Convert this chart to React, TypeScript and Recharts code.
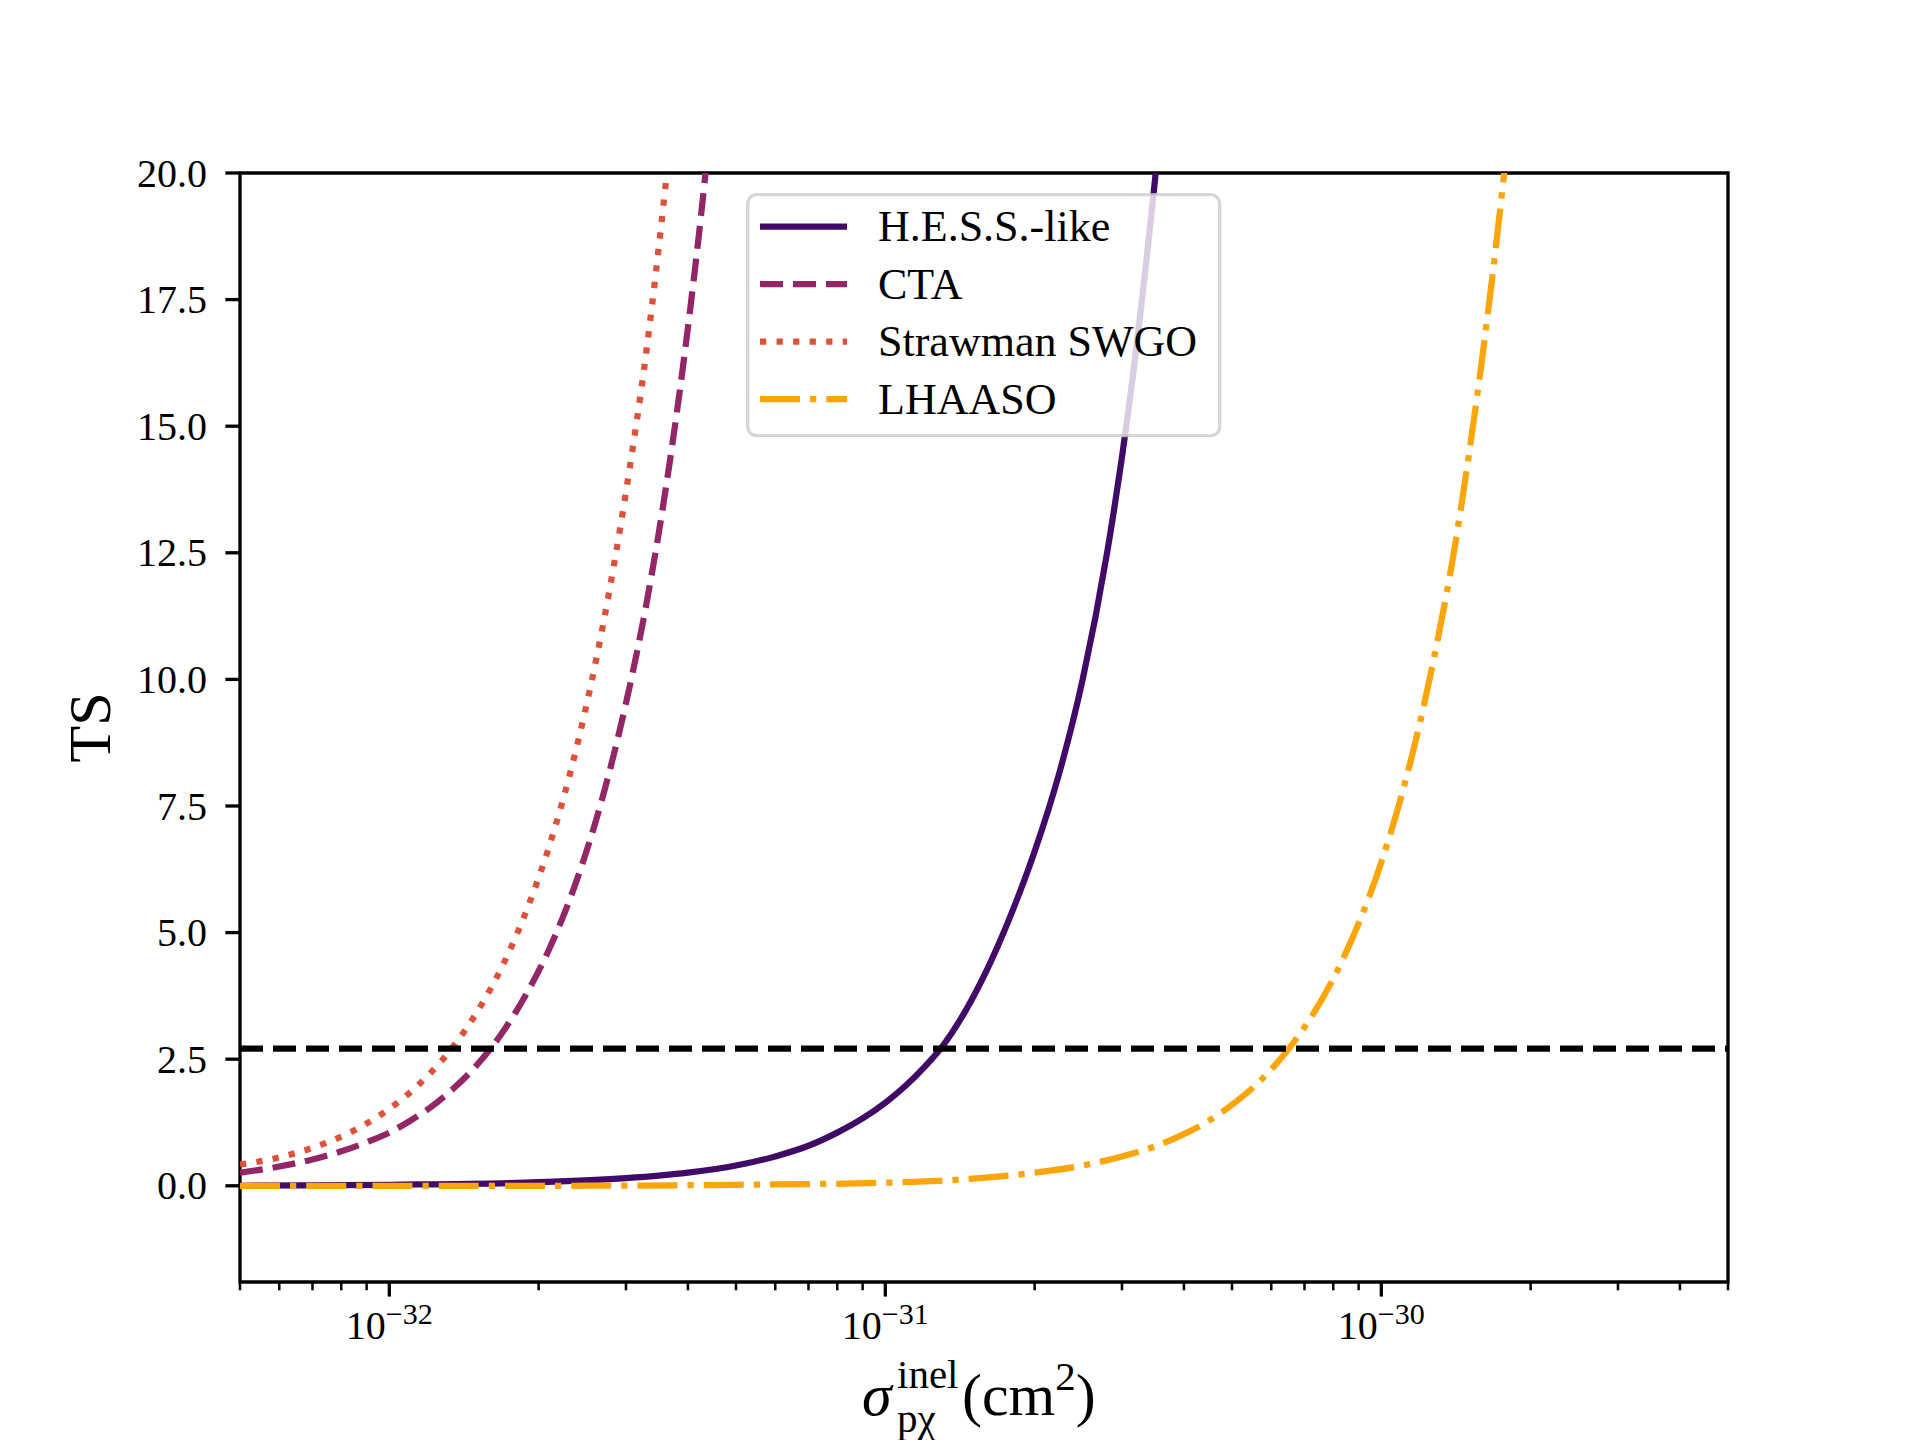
import { LineChart, Line, XAxis, YAxis, ReferenceLine, ReferenceArea, Legend } from "recharts";

const FONT = '"Liberation Serif", "DejaVu Serif", serif';

// sigma (cm^2) and TS, one pair of arrays per instrument
const hessSigma = [5e-33, 1e-32, 2e-32, 3e-32, 4e-32, 5e-32, 6e-32, 7e-32, 8e-32, 9e-32, 1e-31, 1.1e-31, 1.2e-31, 1.3e-31, 1.45e-31, 1.6e-31, 1.8e-31, 2.0e-31, 2.25e-31, 2.5e-31, 2.8e-31, 3.1e-31, 3.5e-31, 3.8e-31];
const hessTS = [0.0, 0.02, 0.07, 0.15, 0.26, 0.4, 0.58, 0.79, 1.05, 1.33, 1.64, 1.98, 2.35, 2.74, 3.45, 4.25, 5.4, 6.6, 8.2, 10.0, 12.5, 15.4, 19.9, 23.5];

const ctaSigma = [5e-33, 6e-33, 7e-33, 8e-33, 9e-33, 1e-32, 1.1e-32, 1.2e-32, 1.35e-32, 1.5e-32, 1.7e-32, 1.9e-32, 2.1e-32, 2.4e-32, 2.7e-32, 3.0e-32, 3.3e-32, 3.6e-32, 3.9e-32, 4.2e-32, 4.5e-32];
const ctaTS = [0.26, 0.38, 0.52, 0.68, 0.86, 1.05, 1.28, 1.52, 1.93, 2.38, 3.06, 3.83, 4.67, 6.1, 7.72, 9.53, 11.5, 13.7, 16.1, 18.7, 21.5];

const swgoSigma = [5e-33, 6e-33, 7e-33, 8e-33, 9e-33, 1e-32, 1.1e-32, 1.2e-32, 1.35e-32, 1.5e-32, 1.7e-32, 1.9e-32, 2.1e-32, 2.4e-32, 2.7e-32, 3.0e-32, 3.3e-32, 3.6e-32, 3.9e-32];
const swgoTS = [0.42, 0.56, 0.75, 0.97, 1.23, 1.52, 1.84, 2.19, 2.77, 3.42, 4.39, 5.49, 6.7, 8.76, 11.1, 13.7, 16.5, 19.7, 23.1];

const lhaasoSigma = [5e-33, 1e-32, 2e-32, 5e-32, 1e-31, 1.5e-31, 2e-31, 2.5e-31, 3e-31, 3.5e-31, 4e-31, 4.5e-31, 5e-31, 5.5e-31, 6e-31, 6.5e-31, 7e-31, 8e-31, 9e-31, 1e-30, 1.1e-30, 1.2e-30, 1.3e-30, 1.4e-30, 1.5e-30, 1.6e-30, 1.7e-30, 1.8e-30, 1.9e-30];
const lhaasoTS = [0.0, 0.0, 0.0, 0.02, 0.06, 0.14, 0.26, 0.4, 0.58, 0.78, 1.02, 1.29, 1.6, 1.93, 2.3, 2.7, 3.13, 4.09, 5.18, 6.39, 7.73, 9.2, 10.8, 12.5, 14.4, 16.4, 18.5, 20.7, 23.1];

const threshold = 2.71;

const seriesNames = ["H.E.S.S.-like", "CTA", "Strawman SWGO", "LHAASO"];
const seriesColors = ["#420a68", "#932667", "#dd513a", "#fca50a"];
const seriesDashes = ["", "23 10", "6.25 10.3", "40 10 6.25 10"];

const xTicks = [
    5e-33, 6e-33, 7e-33, 8e-33, 9e-33,
    1e-32, 2e-32, 3e-32, 4e-32, 5e-32, 6e-32, 7e-32, 8e-32, 9e-32,
    1e-31, 2e-31, 3e-31, 4e-31, 5e-31, 6e-31, 7e-31, 8e-31, 9e-31,
    1e-30, 2e-30, 3e-30, 4e-30, 5e-30
];
const xMajor = [1e-32, 1e-31, 1e-30];
const yTicks = [0, 2.5, 5, 7.5, 10, 12.5, 15, 17.5, 20];

const toRows = (xs: number[], ys: number[]) => xs.map((x, i) => ({ sigma: x, ts: ys[i] }));
const seriesData = [
    toRows(hessSigma, hessTS),
    toRows(ctaSigma, ctaTS),
    toRows(swgoSigma, swgoTS),
    toRows(lhaasoSigma, lhaasoTS)
];

function XTick(props: any) {
    const { x, y, payload } = props;
    const v = payload.value;
    const major = xMajor.some(m => Math.abs(v - m) / m < 1e-6);
    const exp = Math.round(Math.log10(v));
    return (
        <g>
            <line x1={x} x2={x} y1={y} y2={y + (major ? 14.6 : 8.3)} stroke="#000" strokeWidth={major ? 3.3 : 2.5}/>
            {major && (
                <text x={x} y={y + 57} textAnchor="middle" fontFamily={FONT} fontSize={40} fill="#000">
                    10<tspan dy={-15} fontSize={30}>{"\u2212" + Math.abs(exp)}</tspan>
                </text>
            )}
        </g>
    );
}

function YTick(props: any) {
    const { x, y, payload } = props;
    return (
        <g>
            <line x1={x - 14.6} x2={x} y1={y} y2={y} stroke="#000" strokeWidth={3.3}/>
            <text x={x - 33} y={y} dy="0.34em" textAnchor="end" fontFamily={FONT} fontSize={40} fill="#000">
                {payload.value.toFixed(1)}
            </text>
        </g>
    );
}

function XLabel(props: any) {
    const { viewBox } = props;
    const cx = viewBox.x + viewBox.width / 2;
    const base = 1415;
    const x0 = cx - 122;
    return (
        <g fontFamily={FONT} fill="#000">
            <text x={x0} y={base} fontSize={60} fontStyle="italic">σ</text>
            <text x={x0 + 35} y={base - 27} fontSize={41}>inel</text>
            <text x={x0 + 35} y={base + 17} fontSize={41}>pχ</text>
            <text x={x0 + 100} y={base} fontSize={60}>
                (cm<tspan dy={-25} fontSize={41}>2</tspan><tspan dy={25} fontSize={60}>)</tspan>
            </text>
        </g>
    );
}

function YLabel(props: any) {
    const { viewBox } = props;
    const cx = viewBox.x + 50;
    const cy = viewBox.y + viewBox.height / 2;
    return (
        <text x={cx} y={cy} dy="0.33em" textAnchor="middle" fontFamily={FONT} fontSize={60} fill="#000"
              transform={`rotate(-90, ${cx}, ${cy})`}>
            TS
        </text>
    );
}

function LegendBox() {
    const rowY = [33.5, 91, 148.6, 206];
    return (
        <svg width={476} height={245} style={{ display: "block" }}>
            <rect x={1.7} y={1.7} width={472} height={241} rx={9} ry={9}
                  fill="#fff" fillOpacity={0.8} stroke="#cccccc" strokeOpacity={0.8} strokeWidth={3.3}/>
            {seriesNames.map((name, i) => (
                <g key={name}>
                    <line x1={14} x2={101} y1={rowY[i]} y2={rowY[i]} stroke={seriesColors[i]}
                          strokeWidth={6.25} strokeDasharray={seriesDashes[i] || undefined}/>
                    <text x={132} y={rowY[i] + 14.5} fontFamily={FONT} fontSize={44} fill="#000">{name}</text>
                </g>
            ))}
        </svg>
    );
}

export default function App() {
    return (
        <div style={{ position: "absolute", left: 0, top: 0, width: 1920, height: 1440, background: "#fff" }}>
            <LineChart width={1920} height={1440} margin={{ top: 173, right: 192, bottom: 38, left: 40 }}>
                <XAxis dataKey="sigma" type="number" scale="log" domain={[5e-33, 5e-30]} allowDataOverflow
                       ticks={xTicks} interval={0} tick={<XTick/>} tickLine={false} tickSize={0} tickMargin={0}
                       axisLine={false} height={120} label={<XLabel/>}/>
                <YAxis type="number" domain={[-1.9, 20]} allowDataOverflow ticks={yTicks} interval={0}
                       tick={<YTick/>} tickLine={false} tickSize={0} tickMargin={0} axisLine={false}
                       width={200} label={<YLabel/>}/>
                {seriesNames.map((name, i) => (
                    <Line key={name} data={seriesData[i]} dataKey="ts" name={name} type="monotone"
                          stroke={seriesColors[i]} strokeWidth={6.25}
                          strokeDasharray={seriesDashes[i] || undefined}
                          dot={false} activeDot={false} isAnimationActive={false}/>
                ))}
                <ReferenceLine y={threshold} stroke="#000" strokeWidth={6.25} strokeDasharray="23 10"/>
                <ReferenceArea x1={5e-33} x2={5e-30} y1={-1.9} y2={20} fill="none" fillOpacity={0}
                               stroke="#000" strokeWidth={3.3}/>
                <Legend layout="vertical" align="center" verticalAlign="middle"
                        wrapperStyle={{ left: 746, top: 193, width: 476, height: 245 }}
                        content={<LegendBox/>}/>
            </LineChart>
        </div>
    );
}
